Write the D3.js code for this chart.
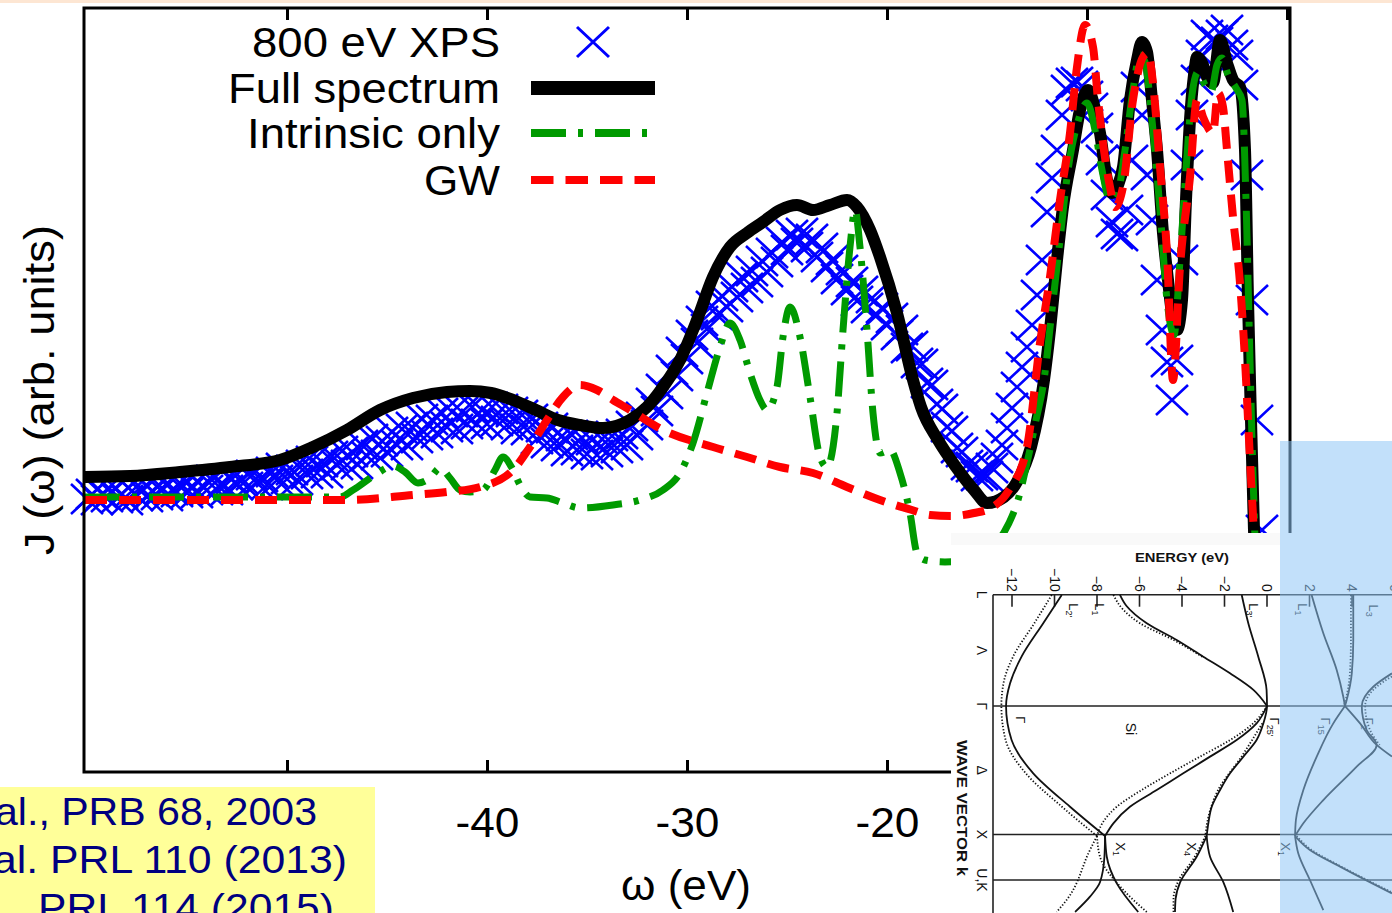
<!DOCTYPE html>
<html>
<head>
<meta charset="utf-8">
<script src="https://cdn.jsdelivr.net/npm/d3@7"></script>
<style>
  html, body { margin: 0; padding: 0; background: #fff; overflow: hidden; }
  svg { display: block; }
</style>
</head>
<body>
<svg id="chart" width="1392" height="913"></svg>
<script>
// ---------------- Spectral function J(ω) of Si ----------------
// XPS measurement: sampled every 0.25 eV starting at -60 eV
const xpsStart = -60;
const xpsStep = 0.25;
const xpsJ = [
  2.73, 2.78, 2.72, 2.78, 2.75, 2.81, 2.74, 2.78, 2.72, 2.81,
  2.76, 2.83, 2.75, 2.81, 2.77, 2.84, 2.76, 2.82, 2.80, 2.87,
  2.79, 2.86, 2.79, 2.86, 2.82, 2.92, 2.82, 2.89, 2.82, 2.93,
  2.87, 2.93, 2.85, 2.97, 2.89, 2.95, 2.87, 3.00, 2.92, 3.04,
  2.93, 3.02, 2.92, 3.07, 2.98, 3.11, 2.99, 3.10, 2.99, 3.16,
  3.07, 3.21, 3.07, 3.20, 3.08, 3.27, 3.16, 3.33, 3.17, 3.31,
  3.20, 3.40, 3.27, 3.43, 3.27, 3.45, 3.34, 3.53, 3.37, 3.52,
  3.39, 3.59, 3.45, 3.60, 3.43, 3.60, 3.48, 3.65, 3.48, 3.62,
  3.48, 3.65, 3.51, 3.63, 3.47, 3.60, 3.43, 3.57, 3.42, 3.53,
  3.33, 3.45, 3.29, 3.44, 3.26, 3.36, 3.21, 3.37, 3.22, 3.34,
  3.18, 3.32, 3.17, 3.33, 3.20, 3.36, 3.24, 3.38, 3.27, 3.46,
  3.37, 3.55, 3.47, 3.69, 3.61, 3.83, 3.78, 4.02, 3.96, 4.20,
  4.13, 4.37, 4.29, 4.51, 4.43, 4.66, 4.57, 4.76, 4.65, 4.85,
  4.75, 4.95, 4.84, 5.01, 4.90, 5.11, 5.00, 5.19, 5.10, 5.30,
  5.22, 5.37, 5.29, 5.39, 5.25, 5.33, 5.15, 5.24, 5.05, 5.12,
  4.93, 5.02, 4.82, 4.90, 4.71, 4.81, 4.64, 4.74, 4.57, 4.64,
  4.47, 4.54, 4.37, 4.42, 4.24, 4.26, 4.09, 4.08, 3.89, 3.87,
  3.68, 3.63, 3.45, 3.41, 3.24, 3.20, 3.07, 3.05, 2.96, 2.97,
  2.96, 3.04, 3.14, 3.27, 3.44, 3.64, 3.85, 4.05, 4.25, 4.47,
  4.77, 5.12, 5.60, 5.94, 6.22, 6.57, 6.82, 6.89, 6.90, 6.86,
  6.76, 6.64, 6.44, 6.12, 5.77, 5.50, 5.38, 5.36, 5.62, 6.12,
  6.85, 6.57, 5.97, 5.52, 4.92, 4.42, 4.10, 3.72, 4.12, 5.12,
  6.07, 6.57, 6.92, 7.17, 7.37, 7.32, 7.30, 7.37, 7.42, 7.27,
  7.17, 6.87, 5.97, 4.72, 3.52, 2.42, 1.52
];

// Full spectrum (cumulant + extrinsic), [ω (eV), J]
const fullSpectrum = [
  [-60.1, 2.95], [-57.85, 2.96], [-55.35, 3.00], [-52.85, 3.05], [-50.35, 3.12],
  [-48.7, 3.25], [-47.0, 3.42], [-45.35, 3.62], [-43.7, 3.74], [-42.0, 3.80],
  [-40.85, 3.81], [-39.8, 3.79], [-38.7, 3.72], [-37.55, 3.62], [-36.45, 3.52],
  [-35.35, 3.47], [-34.2, 3.44], [-32.85, 3.52], [-32.0, 3.65], [-31.2, 3.85],
  [-30.35, 4.12], [-29.5, 4.52], [-28.7, 4.95], [-27.85, 5.25], [-27.0, 5.39],
  [-26.2, 5.50], [-25.35, 5.62], [-24.5, 5.67], [-23.7, 5.62], [-22.85, 5.67],
  [-22.0, 5.72], [-21.5, 5.65], [-20.85, 5.42], [-20.35, 5.15], [-19.5, 4.59],
  [-18.7, 3.92], [-18.3, 3.65], [-17.45, 3.32], [-16.55, 3.05], [-15.65, 2.82],
  [-15.0, 2.69], [-14.15, 2.75], [-13.45, 2.92], [-12.8, 3.25], [-12.15, 3.92],
  [-11.85, 4.42], [-11.5, 5.12], [-11.2, 5.65], [-10.7, 6.22], [-10.35, 6.62],
  [-9.95, 6.82], [-9.65, 6.67], [-9.35, 6.39], [-9.0, 5.92], [-8.75, 5.79],
  [-8.45, 5.87], [-8.2, 6.05], [-7.85, 6.72], [-7.5, 7.12], [-7.25, 7.30],
  [-7.0, 7.20], [-6.75, 6.72], [-6.5, 6.22], [-6.2, 5.39], [-5.95, 4.92],
  [-5.7, 4.52], [-5.5, 4.42], [-5.25, 4.72], [-5.05, 5.72], [-4.85, 6.52],
  [-4.65, 6.97], [-4.5, 7.15], [-4.2, 7.07], [-4.0, 6.95], [-3.7, 6.89],
  [-3.35, 7.32], [-3.0, 7.09], [-2.7, 6.92], [-2.35, 6.85], [-2.1, 6.22],
  [-1.95, 4.72], [-1.8, 3.52], [-1.65, 2.42], [-1.45, 1.30], [-1.2, 0.50]
];

// Intrinsic-only spectrum
const intrinsicOnly = [
  [-60.1, 2.75], [-47.35, 2.75], [-46.7, 2.82], [-45.6, 2.97], [-44.7, 3.06],
  [-44.1, 3.00], [-43.45, 2.89], [-42.85, 2.94], [-42.35, 3.04], [-41.85, 2.94],
  [-41.35, 2.82], [-40.85, 2.80], [-40.2, 2.82], [-39.6, 3.02], [-39.2, 3.15],
  [-38.75, 3.04], [-38.35, 2.87], [-37.85, 2.75], [-37.0, 2.74], [-36.2, 2.69],
  [-35.35, 2.64], [-33.7, 2.67], [-32.35, 2.72], [-31.2, 2.82], [-30.35, 2.99],
  [-29.7, 3.29], [-29.0, 3.79], [-28.35, 4.25], [-27.85, 4.49], [-27.35, 4.32],
  [-26.85, 3.99], [-26.35, 3.72], [-26.0, 3.62], [-25.5, 3.85], [-25.2, 4.35],
  [-24.85, 4.65], [-24.35, 4.35], [-23.85, 3.75], [-23.35, 3.15], [-23.0, 3.05],
  [-22.5, 3.59], [-22.2, 4.42], [-21.85, 5.25], [-21.6, 5.62], [-21.35, 5.25],
  [-21.0, 4.42], [-20.7, 3.59], [-20.35, 3.19], [-19.85, 3.22], [-19.35, 2.99],
  [-18.85, 2.59], [-18.5, 2.19], [-18.1, 2.12], [-17.1, 2.10], [-15.85, 2.12],
  [-14.6, 2.27], [-13.9, 2.49], [-13.45, 2.72], [-13.0, 3.09], [-12.55, 3.52],
  [-12.15, 3.92], [-11.75, 4.62], [-11.35, 5.32], [-10.95, 6.02], [-10.5, 6.47],
  [-10.0, 6.69], [-9.6, 6.42], [-9.25, 6.02], [-8.85, 5.72], [-8.5, 5.77],
  [-8.1, 6.22], [-7.7, 6.82], [-7.35, 7.17], [-7.1, 7.10], [-6.75, 6.52],
  [-6.35, 5.62], [-6.0, 4.72], [-5.65, 4.37], [-5.35, 5.12], [-5.05, 6.02],
  [-4.75, 6.77], [-4.45, 7.00], [-4.1, 6.87], [-3.8, 6.80], [-3.5, 7.07],
  [-3.25, 7.14], [-2.95, 6.97], [-2.55, 6.84], [-2.25, 6.72], [-2.05, 5.72],
  [-1.9, 4.52], [-1.75, 3.32], [-1.6, 2.32], [-1.45, 1.22]
];

// GW quasiparticle spectrum
const gwSpectrum = [
  [-60.1, 2.72], [-47.0, 2.72], [-43.7, 2.77], [-42.0, 2.80], [-40.35, 2.85],
  [-38.7, 3.02], [-37.85, 3.25], [-37.0, 3.52], [-36.2, 3.75], [-35.35, 3.87],
  [-34.5, 3.82], [-33.7, 3.72], [-32.85, 3.62], [-31.2, 3.42], [-28.7, 3.25],
  [-27.0, 3.15], [-25.35, 3.05], [-23.7, 2.99], [-22.0, 2.85], [-20.35, 2.72],
  [-18.75, 2.62], [-17.85, 2.57], [-16.8, 2.56], [-15.65, 2.59], [-14.8, 2.64],
  [-13.9, 2.82], [-13.0, 3.25], [-12.35, 4.29], [-11.85, 4.95], [-11.35, 5.72],
  [-10.85, 6.39], [-10.5, 7.05], [-10.1, 7.47], [-9.7, 7.25], [-9.45, 6.72],
  [-9.2, 6.29], [-8.85, 5.85], [-8.6, 5.65], [-8.2, 5.85], [-7.7, 6.72],
  [-7.2, 7.15], [-6.95, 7.19], [-6.7, 6.89], [-6.35, 6.05], [-6.0, 5.19],
  [-5.7, 3.92], [-5.35, 5.05], [-4.85, 5.95], [-4.5, 6.72], [-4.2, 6.55],
  [-3.7, 6.39], [-3.45, 6.79], [-3.2, 6.65], [-3.0, 6.22], [-2.7, 5.55],
  [-2.35, 4.89], [-2.1, 4.12], [-1.85, 3.12], [-1.6, 2.12], [-1.45, 1.22]
];

const xTickValues = [-50, -40, -30, -20, -10, 0];
// labels drawn under the ticks (the others sit beneath the overlays)
const xTickLabels = ["", "-40", "-30", "-20", "", ""];
const legendLabels = ["800 eV XPS", "Full spectrum", "Intrinsic only", "GW"];
const citationLines = ["al., PRB 68, 2003", "al. PRL 110 (2013)", "PRL 114 (2015)"];

// ---------------- Si band structure (k along L–Γ–X–U,K, energy in eV) ----------------
const bandTicksE = [-12, -10, -8, -6, -4, -2, 0, 2, 4, 6];
const kPointNames = ["L", "Λ", "Γ", "Δ", "X", "U,K"];
const kPointPos = [-0.866, -0.433, 0, 0.5, 1, 1.354];
const kLineNames = ["L", "Γ", "X", "U,K"];
const kLinePos = [-0.866, 0, 1, 1.354];

// solid curves, [k, E]
const vb1 = [[-0.864,-9.66],[-0.644,-10.53],[-0.384,-11.55],[-0.177,-12.09],[0,-12.28],[0.265,-12.02],[0.524,-11.0],[0.784,-9.27],[1.012,-7.62]];
const vb2Lambda = [[-0.864,-6.92],[-0.78,-6.62],[-0.644,-5.66],[-0.514,-4.25],[-0.384,-3.0],[-0.254,-1.74],[-0.125,-0.64],[0,0]];
const vb2Delta = [[0,0],[0.135,-0.49],[0.265,-1.43],[0.394,-2.68],[0.524,-3.94],[0.654,-5.19],[0.784,-6.45],[0.913,-7.23],[1.012,-7.62]];
const vb3 = [[-0.864,-1.19],[-0.644,-0.88],[-0.384,-0.41],[-0.125,-0.02],[0,0],[0.135,-0.17],[0.265,-0.49],[0.394,-1.11],[0.524,-1.74],[0.654,-2.21],[0.784,-2.6],[0.913,-2.76],[1.012,-2.84]];
const x1Right = [[1.012,-7.62],[1.173,-7.54],[1.38,-7.07],[1.603,-6.06]];
const x1Left = [[1.012,-7.62],[1.173,-7.65],[1.372,-7.86],[1.484,-8.33],[1.603,-9.03]];
const x4Right = [[1.012,-2.84],[1.173,-2.68],[1.372,-2.05],[1.603,-1.59]];
const x4Left = [[1.012,-2.84],[1.173,-3.31],[1.372,-4.09],[1.5,-4.3],[1.603,-4.33]];
const cbL1 = [[-0.864,2.10],[-0.566,2.65],[-0.28,3.28],[-0.072,3.59],[0,3.67]];
const cbL3 = [[-0.864,4.06],[-0.514,4.06],[-0.254,3.99],[-0.047,3.75],[0,3.67]];
const cbDelta1 = [[0,3.67],[0.135,3.12],[0.394,2.34],[0.654,1.71],[0.887,1.36],[1.012,1.32]];
const cbDelta5 = [[0,3.67],[0.135,4.38],[0.303,5.16],[0.394,5.88]];
const cbGamma2 = [[-0.254,5.88],[-0.15,5.0],[0,4.46],[0.187,4.69],[0.303,5.16],[0.472,4.22],[0.732,2.65],[0.913,1.71],[1.012,1.32]];
const cbX1a = [[1.012,1.32],[1.12,2.02],[1.25,3.44],[1.458,5.88]];
const cbX1b = [[1.012,1.32],[1.146,1.47],[1.354,2.02],[1.588,2.65]];
// dotted curves (second calculation)
const vb1Dot = [[-0.864,-10.13],[-0.644,-10.95],[-0.384,-11.95],[-0.177,-12.4],[0,-12.5],[0.265,-12.3],[0.524,-11.35],[0.784,-9.65],[1.012,-8.0]];
const vb2LambdaDot = [[-0.864,-7.23],[-0.747,-6.75],[-0.644,-5.98],[-0.514,-4.4],[-0.384,-3.05]];
const vb2DeltaDot = [[0,0],[0.135,-0.65],[0.265,-1.74],[0.394,-3.15],[0.524,-4.56],[0.654,-5.9],[0.784,-7.07],[0.913,-7.75],[1.012,-8.0]];
const vb3DeltaDot = [[0.135,-0.22],[0.394,-1.2],[0.654,-2.3],[0.913,-2.82],[1.012,-2.9]];
const x1RightDot = [[1.012,-8.0],[1.173,-7.86],[1.432,-6.76],[1.603,-5.66]];
const x1LeftDot = [[1.012,-8.0],[1.12,-8.33],[1.51,-9.43],[1.603,-9.9]];
const x4LeftDot = [[1.012,-2.9],[1.173,-3.4],[1.372,-4.2],[1.5,-4.4],[1.603,-4.4]];
const cbL3Dot = [[-0.864,3.95],[-0.514,3.95],[-0.254,3.9],[-0.047,3.7],[0,3.62]];
const cbGamma2Dot = [[-0.23,5.88],[-0.15,5.16],[0,4.62],[0.187,4.85],[0.303,5.3]];
const cbX1aDot = [[1.012,1.4],[1.12,2.1],[1.25,3.5],[1.45,5.88]];

const solidBands = [vb1, vb2Lambda, vb2Delta, vb3, x1Right, x1Left, x4Right, x4Left,
                    cbL1, cbL3, cbDelta1, cbDelta5, cbGamma2, cbX1a, cbX1b];
const dottedBands = [vb1Dot, vb2LambdaDot, vb2DeltaDot, vb3DeltaDot, x1RightDot, x1LeftDot,
                     x4LeftDot, cbL3Dot, cbGamma2Dot, cbX1aDot];

// symmetry-point labels: [k, E, main, subscript]
const pointLabels = [
  [-0.80, -9.1, "L", "2'"], [-0.80, -7.9, "L", "1"], [-0.80, -0.65, "L", "3'"],
  [0.08, -11.6, "Γ", ""], [0.09, 0.35, "Γ", "25'"], [1.06, -6.9, "X", "1"],
  [1.06, -3.55, "X", "4"], [-0.80, 1.65, "L", "1"], [-0.79, 5.0, "L", "3"],
  [0.09, 2.75, "Γ", "15"], [0.09, 4.8, "Γ", "2'"], [1.06, 0.85, "X", "1"]
];

// ---------------- drawing ----------------
const svg = d3.select("#chart");
const FONT = "'Liberation Sans', Arial, Helvetica, sans-serif";

// thin slide strip along the top
svg.append("rect").attr("x", 0).attr("y", 0).attr("width", 1392).attr("height", 3).attr("fill", "#fde6d3");

const x = d3.scaleLinear().domain([-60.15, 0.15]).range([84, 1290]);
const y = d3.scaleLinear().domain([0, 7.64]).range([772, 8]);

const plot = svg.append("g");
const crossPath = "M-16,-15L16,15M-16,15L16,-15";

const xpsPoints = xpsJ.map((j, i) => [xpsStart + i * xpsStep, j]);
plot.append("g").selectAll("path").data(xpsPoints).join("path")
  .attr("transform", d => `translate(${x(d[0])},${y(d[1])})`)
  .attr("d", crossPath)
  .attr("fill", "none").attr("stroke", "#0000ff").attr("stroke-width", 2.6);

const line = d3.line().x(d => x(d[0])).y(d => y(d[1])).curve(d3.curveMonotoneX);

plot.append("path").datum(fullSpectrum).attr("d", line)
  .attr("fill", "none").attr("stroke", "#000").attr("stroke-width", 12)
  .attr("stroke-linejoin", "round");
plot.append("path").datum(intrinsicOnly).attr("d", line)
  .attr("fill", "none").attr("stroke", "#009a00").attr("stroke-width", 7)
  .attr("stroke-dasharray", "35,12,5,12");
plot.append("path").datum(gwSpectrum).attr("d", line)
  .attr("fill", "none").attr("stroke", "#ff0000").attr("stroke-width", 8)
  .attr("stroke-dasharray", "22,12");

// frame and ticks
svg.append("rect").attr("x", 84).attr("y", 8).attr("width", 1206).attr("height", 764)
  .attr("fill", "none").attr("stroke", "#000").attr("stroke-width", 3);

const gx = svg.append("g").attr("transform", "translate(0,772)")
  .call(d3.axisBottom(x).tickValues(xTickValues).tickSize(-12).tickPadding(34)
    .tickFormat((d, i) => xTickLabels[i]));
gx.select(".domain").remove();
gx.selectAll("line").attr("stroke", "#000").attr("stroke-width", 3);
gx.attr("font-size", 43).attr("font-family", FONT);
gx.selectAll("text").filter(function () { return this.textContent === ""; }).remove();
gx.selectAll("text").attr("fill", "#000").attr("textLength", 64).attr("lengthAdjust", "spacingAndGlyphs");

const gxTop = svg.append("g").attr("transform", "translate(0,8)")
  .call(d3.axisTop(x).tickValues(xTickValues).tickSize(-12).tickFormat(""));
gxTop.select(".domain").remove();
gxTop.selectAll("text").remove();
gxTop.selectAll("line").attr("stroke", "#000").attr("stroke-width", 3);

// axis titles
svg.append("text").attr("x", 686).attr("y", 900).attr("text-anchor", "middle")
  .attr("font-family", FONT).attr("font-size", 43).attr("textLength", 130)
  .attr("lengthAdjust", "spacingAndGlyphs").text("ω (eV)");
svg.append("text").attr("transform", "translate(54,390) rotate(-90)").attr("text-anchor", "middle")
  .attr("font-family", FONT).attr("font-size", 43).attr("textLength", 330)
  .attr("lengthAdjust", "spacingAndGlyphs").text("J (ω) (arb. units)");

// legend
const legendRowY = [42, 88, 133, 180];
const legendTextLen = [248, 272, 253, 76];
const legend = svg.append("g").attr("font-family", FONT).attr("font-size", 43);
legendLabels.forEach((lab, i) => {
  legend.append("text").attr("x", 500).attr("y", legendRowY[i] + 15).attr("text-anchor", "end")
    .attr("textLength", legendTextLen[i]).attr("lengthAdjust", "spacingAndGlyphs").text(lab);
});
legend.append("path").attr("transform", `translate(593,${legendRowY[0]})`).attr("d", crossPath)
  .attr("fill", "none").attr("stroke", "#0000ff").attr("stroke-width", 3);
legend.append("line").attr("x1", 531).attr("x2", 655).attr("y1", legendRowY[1]).attr("y2", legendRowY[1])
  .attr("stroke", "#000").attr("stroke-width", 14);
legend.append("line").attr("x1", 531).attr("x2", 655).attr("y1", legendRowY[2]).attr("y2", legendRowY[2])
  .attr("stroke", "#009a00").attr("stroke-width", 8).attr("stroke-dasharray", "35,12,5,12");
legend.append("line").attr("x1", 531).attr("x2", 655).attr("y1", legendRowY[3]).attr("y2", legendRowY[3])
  .attr("stroke", "#ff0000").attr("stroke-width", 8).attr("stroke-dasharray", "22.5,12");

// citation box (text runs past the left edge of the page)
svg.append("rect").attr("x", 0).attr("y", 787).attr("width", 375).attr("height", 126).attr("fill", "#ffff99");
const citeEnds = [317, 347, 334];
const citeLens = [322, 354, 296];
citationLines.forEach((t, i) => {
  svg.append("text").attr("x", citeEnds[i]).attr("y", 825 + 48 * i).attr("text-anchor", "end")
    .attr("font-family", FONT).attr("font-size", 39).attr("fill", "#000080")
    .attr("textLength", citeLens[i]).attr("lengthAdjust", "spacingAndGlyphs").text(t);
});

// ---------------- band-structure panel ----------------
const eS = d3.scaleLinear().domain([-12, 0]).range([1012, 1267]);
const kS = d3.scaleLinear().domain([0, 1]).range([706, 834.5]);
const panel = svg.append("g");
panel.append("rect").attr("x", 951).attr("y", 533).attr("width", 441).attr("height", 380).attr("fill", "#fff");
panel.append("rect").attr("x", 951).attr("y", 533).attr("width", 329).attr("height", 12).attr("fill", "#f9f9f9");

const eLeft = eS.invert(993), eRight = eS.invert(1392);
panel.selectAll("line.kline").data(kLinePos).join("line").attr("class", "kline")
  .attr("x1", eS(eLeft)).attr("x2", eS(eRight)).attr("y1", d => kS(d)).attr("y2", d => kS(d))
  .attr("stroke", "#222").attr("stroke-width", 1.6);
panel.append("line").attr("x1", eS(eLeft)).attr("x2", eS(eLeft))
  .attr("y1", kS(kLinePos[0])).attr("y2", 913).attr("stroke", "#222").attr("stroke-width", 1.6);

panel.selectAll("line.etick").data(bandTicksE).join("line").attr("class", "etick")
  .attr("x1", d => eS(d)).attr("x2", d => eS(d))
  .attr("y1", kS(kLinePos[0])).attr("y2", kS(kLinePos[0]) + 12)
  .attr("stroke", "#222").attr("stroke-width", 1.6);
panel.selectAll("text.etick").data(bandTicksE).join("text").attr("class", "etick")
  .attr("transform", d => `translate(${eS(d)},${kS(kLinePos[0]) - 3}) rotate(90)`)
  .attr("text-anchor", "end").attr("dy", "0.35em")
  .attr("font-family", FONT).attr("font-size", 14).attr("fill", "#111")
  .text(d => d < 0 ? "\u2212" + Math.abs(d) : String(d));

panel.append("text").attr("x", 1182).attr("y", 562).attr("text-anchor", "middle")
  .attr("font-family", FONT).attr("font-weight", "bold").attr("font-size", 13)
  .attr("textLength", 94).attr("lengthAdjust", "spacingAndGlyphs").attr("fill", "#111").text("ENERGY (eV)");

panel.selectAll("text.kname").data(kPointNames).join("text").attr("class", "kname")
  .attr("transform", (d, i) => `translate(982,${kS(kPointPos[i])}) rotate(90)`)
  .attr("text-anchor", "middle").attr("dy", "0.35em")
  .attr("font-family", FONT).attr("font-size", 14).attr("fill", "#111").text(d => d);

const wv = panel.append("text").attr("transform", "translate(962,808) rotate(90)")
  .attr("text-anchor", "middle").attr("dy", "0.35em")
  .attr("font-family", FONT).attr("font-weight", "bold").attr("font-size", 15)
  .attr("textLength", 136).attr("lengthAdjust", "spacingAndGlyphs").attr("fill", "#111");
wv.append("tspan").text("WAVE VECTOR ");
wv.append("tspan").attr("font-weight", "900").text("k");

const bandLine = d3.line().x(d => eS(d[1])).y(d => kS(d[0])).curve(d3.curveMonotoneY);
panel.append("g").selectAll("path").data(dottedBands).join("path").attr("d", bandLine)
  .attr("fill", "none").attr("stroke", "#111").attr("stroke-width", 1.8).attr("stroke-dasharray", "1.3,1.9");
panel.append("g").selectAll("path").data(solidBands).join("path").attr("d", bandLine)
  .attr("fill", "none").attr("stroke", "#111").attr("stroke-width", 1.8);

pointLabels.forEach(p => {
  const t = panel.append("text")
    .attr("transform", `translate(${eS(p[1])},${kS(p[0])}) rotate(90)`)
    .attr("dy", "0.35em").attr("font-family", FONT).attr("font-size", 13).attr("fill", "#111");
  t.append("tspan").text(p[2]);
  if (p[3]) t.append("tspan").attr("font-size", 9).attr("dy", "3").text(p[3]);
});
panel.append("text").attr("transform", `translate(${eS(-6.4)},${kS(0.13)}) rotate(90)`)
  .attr("dy", "0.35em").attr("font-family", FONT).attr("font-size", 14).attr("fill", "#111").text("Si");

// translucent highlight on the right
svg.append("rect").attr("x", 1280).attr("y", 441).attr("width", 112).attr("height", 472)
  .attr("fill", "#8fc6f6").attr("opacity", 0.54);
</script>
</body>
</html>
